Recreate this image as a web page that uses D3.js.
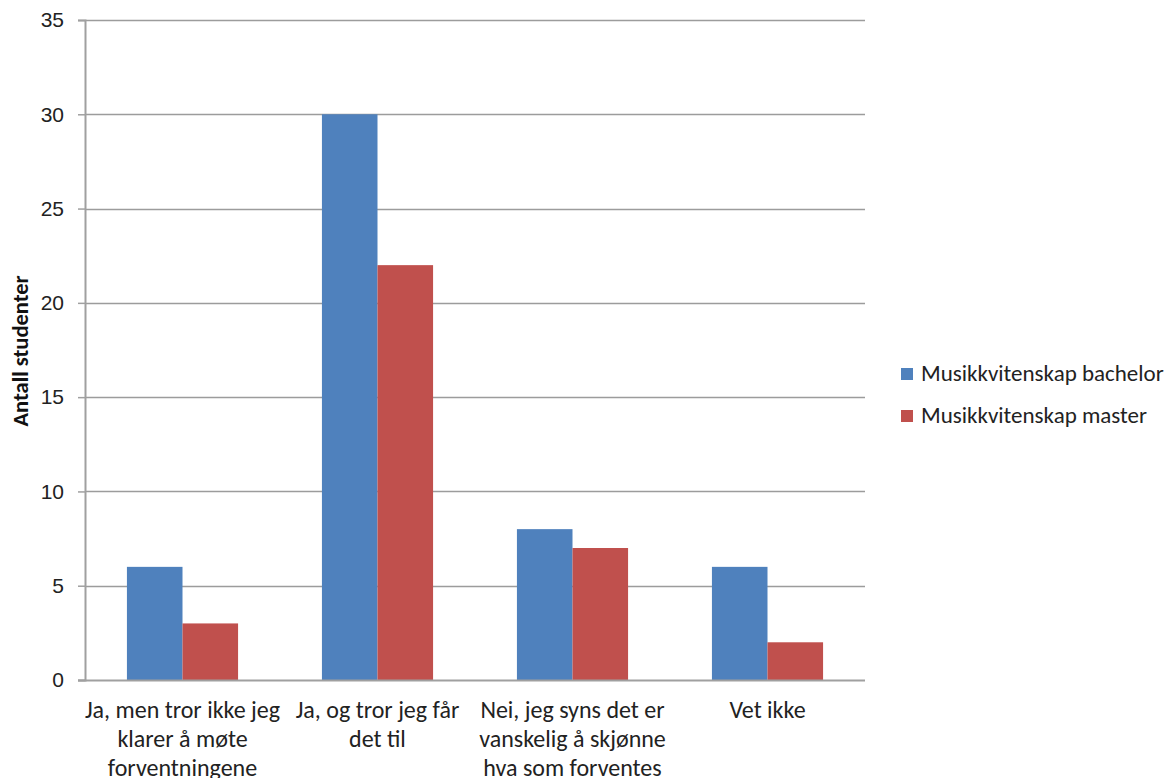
<!DOCTYPE html>
<html>
<head>
<meta charset="utf-8">
<script src="https://cdn.jsdelivr.net/npm/d3@7"></script>
<style>
html,body{margin:0;padding:0;background:#fff;}
svg{display:block;font-family:"Carlito","Liberation Sans",Arial,sans-serif;}
</style>
</head>
<body>
<svg id="chart" width="1176" height="778"></svg>
<script>
const categories = [
  "Ja, men tror ikke jeg\nklarer å møte\nforventningene",
  "Ja, og tror jeg får\ndet til",
  "Nei, jeg syns det er\nvanskelig å skjønne\nhva som forventes",
  "Vet ikke"
];
const seriesNames = ["Musikkvitenskap bachelor", "Musikkvitenskap master"];
const bachelorValues = [6, 30, 8, 6];
const masterValues = [3, 22, 7, 2];
const yTicks = [0, 5, 10, 15, 20, 25, 30, 35];
const colors = ["#4F81BD", "#C0504D"];
const yTitle = "Antall studenter";

(function () {
const svg = d3.select("#chart");
const pLeft = 85, pRight = 865, pTop = 20, pBottom = 680;

const x0 = d3.scaleBand().domain(categories).range([pLeft, pRight]).paddingInner(0.43).paddingOuter(0.215);
const x1 = d3.scaleBand().domain(seriesNames).range([0, x0.bandwidth()]);
const y = d3.scaleLinear().domain([0, 35]).range([pBottom, pTop]);

// gridlines
svg.append("g").selectAll("line").data(yTicks.filter(d => d > 0)).join("line")
  .attr("x1", pLeft).attr("x2", pRight)
  .attr("y1", d => Math.round(y(d)) + 0.5).attr("y2", d => Math.round(y(d)) + 0.5)
  .attr("stroke", "#9c9c9c").attr("stroke-width", 1.3);

// y axis
const yAxis = d3.axisLeft(y).tickValues(yTicks).tickSize(7).tickPadding(14).tickFormat(d3.format("d"));
const gy = svg.append("g").attr("transform", `translate(${pLeft},0)`).call(yAxis);
gy.select(".domain").attr("stroke", "#a0a0a0").attr("stroke-width", 2);
gy.selectAll(".tick line").attr("stroke", "#a0a0a0").attr("stroke-width", 1.5);
gy.selectAll(".tick text").attr("font-size", 21).attr("fill", "#222").attr("font-family", "inherit");

// bars
const data = categories.map((c, i) => ({cat: c, vals: [bachelorValues[i], masterValues[i]]}));
const groups = svg.append("g").selectAll("g").data(data).join("g")
  .attr("transform", d => `translate(${x0(d.cat)},0)`);
groups.selectAll("rect").data(d => d.vals.map((v, j) => ({name: seriesNames[j], v, j}))).join("rect")
  .attr("x", d => x1(d.name))
  .attr("width", x1.bandwidth())
  .attr("y", d => y(d.v))
  .attr("height", d => y(0) - y(d.v))
  .attr("fill", d => colors[d.j]);

// x axis baseline
svg.append("line").attr("x1", pLeft - 7).attr("x2", pRight).attr("y1", pBottom + 0.5).attr("y2", pBottom + 0.5)
  .attr("stroke", "#a0a0a0").attr("stroke-width", 2);

// x labels
const xl = svg.append("g").selectAll("text").data(categories).join("text")
  .attr("x", d => x0(d) + x0.bandwidth() / 2)
  .attr("y", 718)
  .attr("text-anchor", "middle")
  .attr("font-size", 24)
  .attr("fill", "#222");
xl.each(function(d) {
  const t = d3.select(this);
  d.split("\n").forEach((line, i) => {
    t.append("tspan").attr("x", x0(d) + x0.bandwidth() / 2).attr("dy", i === 0 ? 0 : 29).text(line);
  });
});

// y title
svg.append("text")
  .attr("transform", `translate(28,${(pTop + pBottom) / 2 + 1}) rotate(-90)`)
  .attr("text-anchor", "middle")
  .attr("font-size", 22.5)
  .attr("font-weight", "bold")
  .attr("fill", "#111")
  .text(yTitle);

// legend
const lg = svg.append("g").selectAll("g").data(seriesNames).join("g")
  .attr("transform", (d, i) => `translate(901,${368 + i * 42})`);
lg.append("rect").attr("width", 12).attr("height", 12).attr("fill", (d, i) => colors[i]);
lg.append("text").attr("x", 20).attr("y", 13).attr("font-size", 23).attr("fill", "#222").text(d => d);
})();
</script>
</body>
</html>
